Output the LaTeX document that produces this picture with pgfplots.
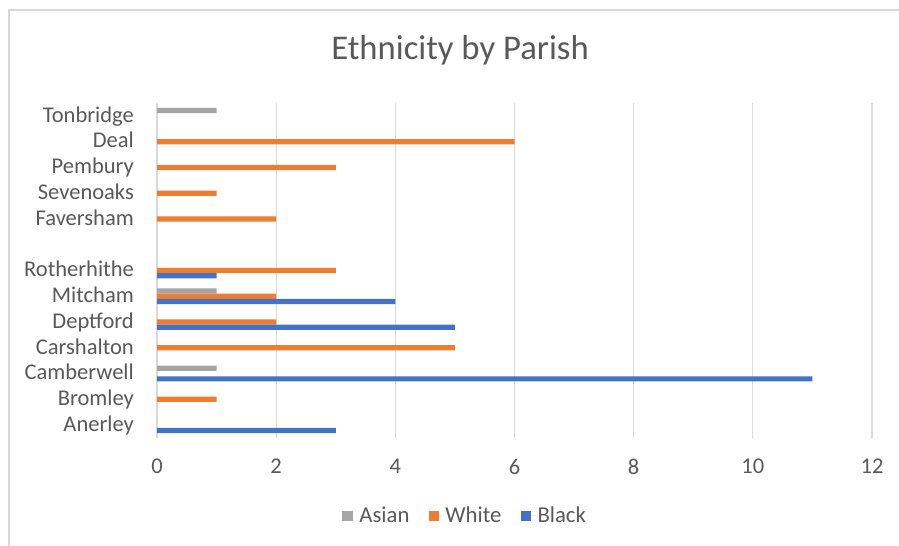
\documentclass[border=0pt]{standalone}
\usepackage{fontspec}
\setmainfont{Carlito}
\usepackage{pgfplots}
\pgfplotsset{compat=1.18}
\definecolor{asian}{HTML}{A5A5A5}
\definecolor{white}{HTML}{ED7D31}
\definecolor{black}{HTML}{4472C4}
\definecolor{txt}{HTML}{595959}
\definecolor{gridc}{HTML}{D9D9D9}
\begin{document}
\begin{tikzpicture}
\path[use as bounding box] (0bp,0bp) rectangle (899bp,546bp);
\draw[line width=1.5bp, gridc] (9bp,0bp) -- (9bp,536bp) -- (899bp,536bp);
\node[anchor=base, text=txt, font=\fontsize{34.8}{40}\selectfont, inner sep=0pt] at (460bp,486bp) {Ethnicity by Parish};
\begin{axis}[
  at={(157bp,108bp)}, anchor=south west,
  width=715bp, height=335bp, scale only axis,
  xbar, bar width=5.2bp,
  every axis plot post/.append style={legend image code/.code={\fill[#1] (0bp,-6bp) rectangle (10.5bp,4.5bp); \path (0bp,0bp) -- (15bp,0bp);}},
  xmin=0, xmax=12, ymin=-0.5, ymax=12.5,
  xtick={0,2,...,12},
  ytick={0,...,12},
  yticklabels={Anerley,Bromley,Camberwell,Carshalton,Deptford,Mitcham,Rotherhithe,,Faversham,Sevenoaks,Pembury,Deal,Tonbridge},
  xmajorgrids, major grid style={gridc, line width=1.3bp},
  axis line style={draw=none}, major tick length=0pt,
  /pgf/number format/assume math mode=true,
  tick label style={text=txt, font=\fontsize{22.6}{26}\selectfont},
  xticklabel style={anchor=north, inner sep=0pt, yshift=-21bp},
  yticklabel style={anchor=east, inner sep=0pt, xshift=-23bp, text height=14.5bp, text depth=0pt, yshift=1bp},
  legend columns=3,
  legend style={draw=none, fill=none, at={(0.431,-0.23)}, anchor=center,
    font=\fontsize{22.8}{26}\selectfont, text=txt,
    /tikz/every even column/.append style={column sep=17bp}},
]
\addplot[fill=asian, draw=none, bar shift=5.3bp] coordinates {(1,2) (1,5) (1,12)};
\addplot[fill=white, draw=none, bar shift=0bp] coordinates {(1,1) (5,3) (2,4) (2,5) (3,6) (2,8) (1,9) (3,10) (6,11)};
\addplot[fill=black, draw=none, bar shift=-5.3bp] coordinates {(3,0) (11,2) (5,4) (4,5) (1,6)};
\legend{Asian,White,Black}
\end{axis}
\end{tikzpicture}
\end{document}
